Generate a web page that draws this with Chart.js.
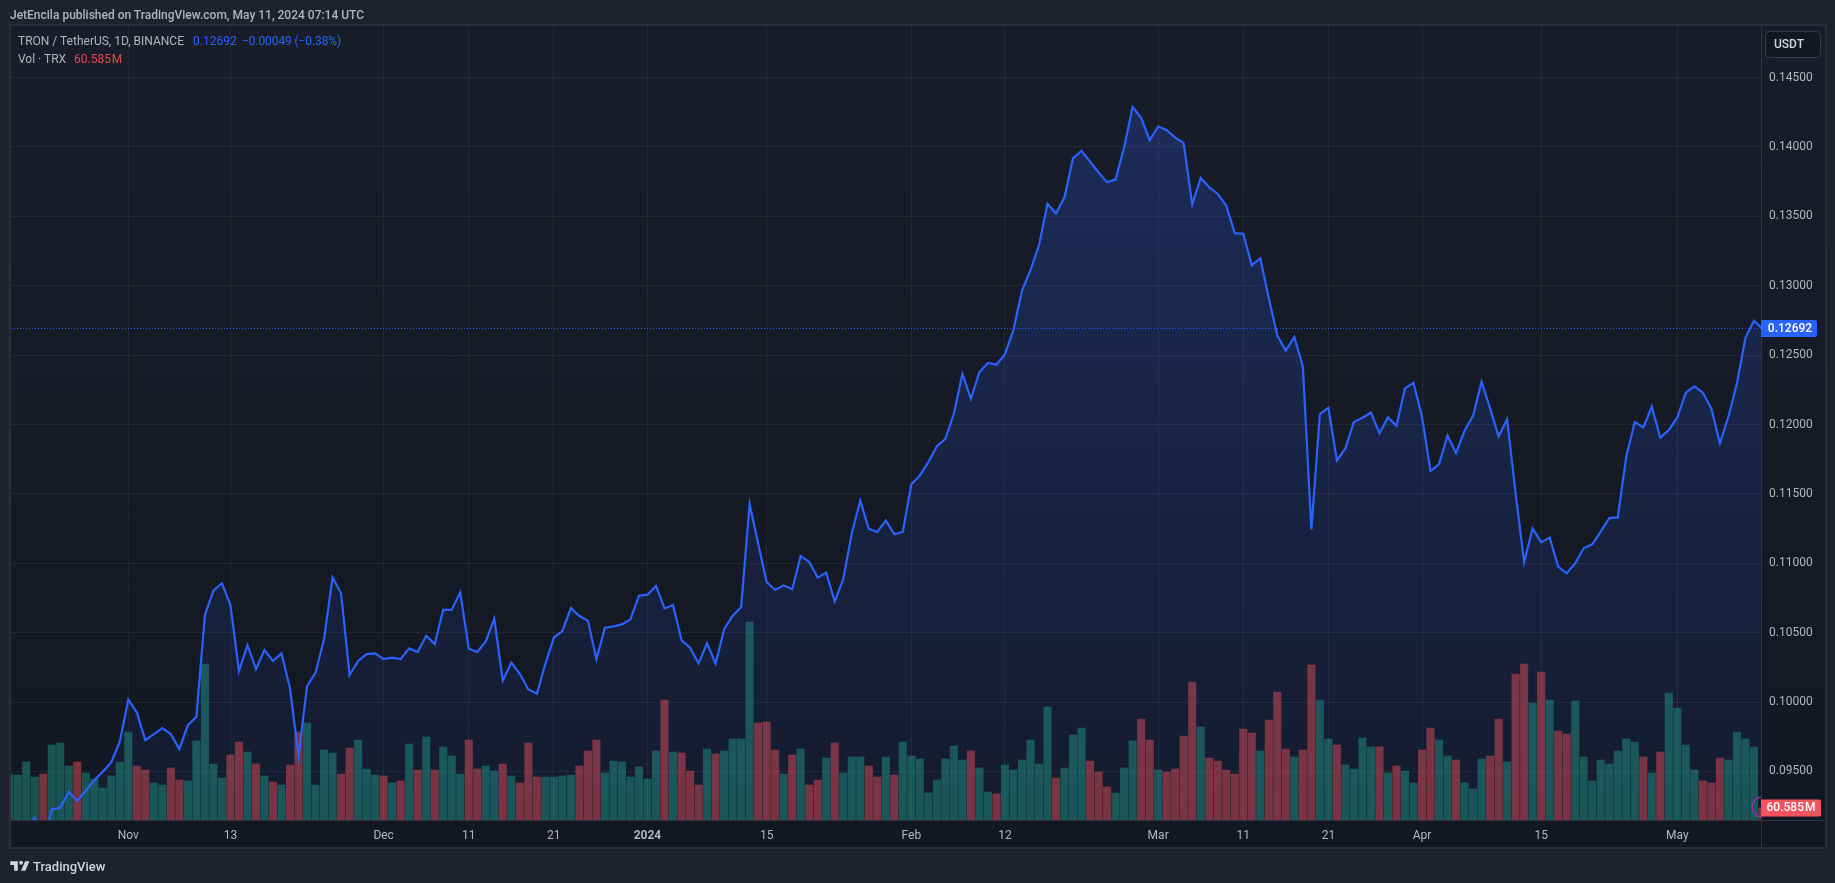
<!DOCTYPE html>
<html><head><meta charset="utf-8"><title>TRON / TetherUS</title>
<script src="https://cdn.jsdelivr.net/npm/chart.js@4/dist/chart.umd.min.js"></script>
<style>
html,body{margin:0;padding:0;width:1835px;height:883px;overflow:hidden;background:#1e222d;}
#c{position:absolute;left:0;top:0;}
.t{position:absolute;white-space:pre;font-family:Roboto,sans-serif;font-size:12px;line-height:14px;color:#b2b5be;}
</style></head><body>
<canvas id="c" width="1835" height="883"></canvas>
<div class="t" style="left:10px;top:8px;color:#b2b5be;font-size:12px;font-weight:500">JetEncila published on TradingView.com, May 11, 2024 07:14 UTC</div>
<div class="t" style="left:18px;top:34px">TRON / TetherUS, 1D, BINANCE</div>
<div class="t" style="left:193px;top:34px;color:#2962ff">0.12692</div>
<div class="t" style="left:242px;top:34px;color:#2962ff;letter-spacing:-0.1px">−0.00049 (−0.38%)</div>
<div class="t" style="left:18px;top:52px">Vol · TRX</div>
<div class="t" style="left:74px;top:52px;color:#e04a4a;word-spacing:-2px">60.585 M</div>
<svg style="position:absolute;left:10px;top:859px" width="20" height="14" viewBox="0 0 36 26"><path fill="#d1d4dc" d="M14 22H7V11H0V4h14v18zM28 22h-8l7.5-18h8L28 22z"/><circle fill="#d1d4dc" cx="20" cy="7" r="3.6"/></svg>
<div class="t" style="left:33px;top:859px;font-size:13px;font-weight:500;color:#d1d4dc;line-height:15px">TradingView</div>
<script>
const closes = [
0.09029,0.09053,0.09077,0.09166,0.08976,0.09226,0.09238,0.09353,0.09288,0.09361,
0.09437,0.09498,0.09567,0.09714,0.10019,0.09926,0.09726,0.09769,0.09813,0.09769,
0.09661,0.09834,0.09894,0.10627,0.10803,0.10856,0.10700,0.10224,0.10411,0.10238,
0.10375,0.10296,0.10351,0.10099,0.09613,0.10115,0.10212,0.10454,0.10899,0.10784,
0.10195,0.10296,0.10346,0.10351,0.10310,0.10320,0.10310,0.10387,0.10361,0.10478,
0.10418,0.10664,0.10666,0.10791,0.10385,0.10361,0.10437,0.10601,0.10154,0.10284,
0.10204,0.10091,0.10060,0.10276,0.10464,0.10512,0.10678,0.10620,0.10587,0.10310,
0.10536,0.10546,0.10560,0.10596,0.10767,0.10774,0.10837,0.10675,0.10700,0.10445,
0.10392,0.10279,0.10423,0.10276,0.10524,0.10623,0.10683,0.11428,0.11142,0.10865,
0.10808,0.10841,0.10813,0.11053,0.11010,0.10897,0.10933,0.10724,0.10885,0.11214,
0.11452,0.11248,0.11226,0.11308,0.11209,0.11226,0.11570,0.11633,0.11729,0.11844,
0.11897,0.12077,0.12365,0.12185,0.12377,0.12443,0.12431,0.12507,0.12682,0.12963,
0.13112,0.13291,0.13589,0.13522,0.13637,0.13919,0.13972,0.13893,0.13816,0.13745,
0.13766,0.13996,0.14287,0.14210,0.14048,0.14148,0.14120,0.14067,0.14027,0.13585,
0.13776,0.13709,0.13661,0.13577,0.13379,0.13374,0.13147,0.13198,0.12909,0.12641,
0.12533,0.12629,0.12419,0.11245,0.12075,0.12121,0.11742,0.11828,0.12018,0.12049,
0.12085,0.11938,0.12051,0.11991,0.12260,0.12301,0.12056,0.11665,0.11715,0.11919,
0.11794,0.11955,0.12063,0.12308,0.12116,0.11914,0.12037,0.11504,0.11007,0.11250,
0.11151,0.11185,0.10976,0.10928,0.11000,0.11108,0.11137,0.11228,0.11326,0.11331,
0.11768,0.12018,0.11979,0.12128,0.11905,0.11960,0.12051,0.12229,0.12274,0.12229,
0.12114,0.11864,0.12056,0.12296,0.12625,0.12747,0.12692];
const volumes = [
230,225,290,215,230,375,385,270,290,235,205,160,220,290,440,270,250,185,175,260,
200,195,395,780,280,210,325,390,340,280,220,190,175,275,440,485,175,350,335,230,
360,400,255,225,220,185,195,380,250,415,250,365,320,230,400,255,270,245,280,220,
185,385,215,215,215,220,225,270,345,400,235,295,290,215,265,205,345,600,340,335,
245,175,355,330,345,405,405,990,485,490,350,230,325,355,175,200,310,385,235,315,
315,270,215,315,225,390,320,305,135,200,305,370,300,345,260,140,130,275,250,300,
400,280,565,210,260,425,460,295,240,165,135,260,395,505,400,250,240,255,420,690,
465,310,295,250,230,455,435,345,500,640,355,315,350,775,600,405,375,275,255,410,
365,365,235,270,245,185,350,460,400,320,300,185,155,305,320,505,290,730,780,585,
740,600,445,430,595,315,195,300,280,345,405,390,315,235,340,635,560,375,250,195,
185,310,300,440,405,365,60.585];
const downVolumeDays = [4,8,15,16,19,20,26,27,29,31,33,34,39,40,44,46,48,50,54,55,58,60,61,62,67,68,69,77,79,80,81,83,88,89,90,92,94,95,97,101,102,104,113,116,123,127,128,129,133,134,136,137,138,139,141,142,143,144,145,146,148,149,150,152,153,156,161,163,166,167,170,174,175,177,178,180,182,183,192,194,199,200,201,206];
const lastPrice = 0.12692;
const lastVolume = 60.585;
const priceTicks = [0.095,0.100,0.105,0.110,0.115,0.120,0.125,0.130,0.135,0.140,0.145];
const dateTickIndex = [14,26,44,54,64,75,89,106,117,135,145,155,166,180,196];
const dateTickLabels = ["Nov","13","Dec","11","21","2024","15","Feb","12","Mar","11","21","Apr","15","May"];
</script>
<script>
const redIdx = new Set(downVolumeDays);
const xMin = 0.217, xMax = 205.83;
const yMin = 0.0915057, yMax = 0.1487109;
const GRID = "rgba(255,255,255,0.06)";
const LINE = "#2f333f";
const frame = {
  id:"frame",
  beforeDraw(ch){
    const {ctx,chartArea:a,width,height}=ch;
    ctx.save();
    ctx.fillStyle="#1e222d";ctx.fillRect(0,0,width,height);
    const g=ctx.createLinearGradient(0,a.top,0,847);
    g.addColorStop(0,"#191d29");g.addColorStop(1,"#131722");
    ctx.fillStyle=g;ctx.fillRect(a.left,a.top,1825-a.left,847-a.top);
    ctx.restore();
  },
  afterDraw(ch){
    const {ctx,chartArea:a,scales}=ch;
    ctx.save();
    ctx.strokeStyle=LINE;ctx.lineWidth=1;
    ctx.beginPath();
    ctx.moveTo(a.right+.5,a.top);ctx.lineTo(a.right+.5,848);
    ctx.moveTo(a.left,a.bottom+.5);ctx.lineTo(1825,a.bottom+.5);
    ctx.stroke();
    ctx.lineWidth=2;ctx.strokeStyle="#2a2e39";
    ctx.strokeRect(a.left-1,a.top-1,1825-a.left+2,847-a.top+2);
    // USDT button
    ctx.lineWidth=1;ctx.fillStyle="#131722";ctx.strokeStyle="#363a45";
    ctx.beginPath();ctx.roundRect(1765.5,31.5,55,26,4);ctx.fill();ctx.stroke();
    ctx.fillStyle="#d1d4dc";ctx.font="500 12px Roboto, sans-serif";ctx.textBaseline="middle";ctx.textAlign="left";
    ctx.fillText("USDT",1774,45);
    // mark on the last bar, clipped by the price axis
    const vy=scales.y2.getPixelForValue(lastVolume);
    ctx.save();
    ctx.beginPath();ctx.rect(a.left,a.top,a.right-a.left,a.bottom-a.top);ctx.clip();
    ctx.strokeStyle="#9c27b0";ctx.lineWidth=1.5;
    ctx.beginPath();ctx.arc(1762,a.bottom-13,10,0,Math.PI*2);ctx.stroke();
    ctx.restore();
    // volume badge
    ctx.fillStyle="#f7525f";
    ctx.beginPath();ctx.roundRect(1761,vy-8.5,60,17,[0,2,2,0]);ctx.fill();
    ctx.fillStyle="#fff";ctx.font="500 12px Roboto, sans-serif";ctx.textAlign="center";
    ctx.wordSpacing="-2px";
    ctx.fillText(lastVolume.toFixed(3)+" M",1791,vy+.5);
    ctx.wordSpacing="0px";
    // last price badge
    const py=scales.y.getPixelForValue(lastPrice);
    ctx.fillStyle="#2962ff";
    ctx.beginPath();ctx.roundRect(1761,py-8.5,56,17,[0,2,2,0]);ctx.fill();
    ctx.fillStyle="#fff";
    ctx.fillText(lastPrice.toFixed(5),1790,py+.5);
    ctx.restore();
  }
};
const areaFill = c=>{
  const {ctx,chartArea:a}=c.chart; if(!a) return "transparent";
  const g=ctx.createLinearGradient(0,126,0,a.bottom);
  g.addColorStop(0,"rgba(41,98,255,0.225)");g.addColorStop(1,"rgba(41,98,255,0.05)");
  return g;
};
const linePts = closes.map((y,x)=>({x,y}));
const volPts = volumes.map((y,x)=>({x,y}));
new Chart(document.getElementById("c"),{
  plugins:[frame],
  data:{datasets:[
    {type:"line",label:"Last price",data:[{x:xMin,y:lastPrice},{x:xMax,y:lastPrice}],yAxisID:"y",borderColor:"#2962ff",borderWidth:1,borderDash:[1,2],pointRadius:0,order:0,clip:0},
    {type:"line",label:"TRON / TetherUS",data:linePts,yAxisID:"y",borderColor:"#2962ff",borderWidth:2.2,tension:0,pointRadius:0,borderJoinStyle:"miter",order:1,clip:0},
    {type:"bar",label:"Vol",data:volPts,yAxisID:"y2",barThickness:7.4,order:2,
      backgroundColor:volPts.map(p=>redIdx.has(p.x)?"rgba(240,82,92,0.46)":"rgba(34,165,145,0.44)")},
    {type:"line",label:"Area",data:linePts,yAxisID:"y",borderWidth:0,borderColor:"transparent",pointRadius:0,fill:"start",backgroundColor:areaFill,order:3}
  ]},
  options:{
    responsive:false,animation:false,events:[],
    layout:{padding:{left:11,top:26,right:10,bottom:36}},
    plugins:{legend:{display:false},tooltip:{enabled:false}},
    scales:{
      x:{type:"linear",min:xMin,max:xMax,offset:false,
        afterBuildTicks(s){s.ticks=dateTickIndex.map(v=>({value:v}));},
        afterFit(s){s.height=27;},
        border:{display:false},
        grid:{color:GRID,lineWidth:1,drawTicks:false,offset:false},
        ticks:{autoSkip:false,maxRotation:0,padding:8.5,color:"#b2b5be",
          font:c=>({family:"Roboto, sans-serif",size:12,weight:c.tick&&dateTickLabels[dateTickIndex.indexOf(c.tick.value)]==="2024"?"700":"400"}),
          callback:v=>dateTickLabels[dateTickIndex.indexOf(v)]}
      },
      y:{type:"linear",position:"right",min:yMin,max:yMax,
        afterBuildTicks(s){s.ticks=priceTicks.map(v=>({value:v}));},
        afterFit(s){s.width=64;},
        border:{display:false},
        grid:{color:GRID,lineWidth:1,drawTicks:false},
        ticks:{padding:8,color:"#b2b5be",font:{family:"Roboto, sans-serif",size:12},callback:v=>v.toFixed(5)}
      },
      y2:{type:"linear",display:false,min:0,max:3970}
    }
  }
});
</script>
</body></html>
